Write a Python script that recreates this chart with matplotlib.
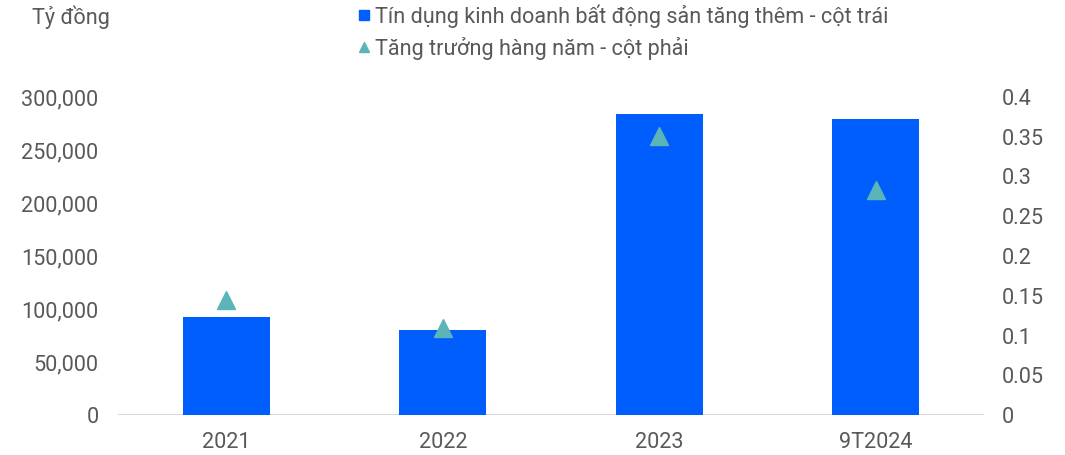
import matplotlib
matplotlib.use("Agg")
import matplotlib.pyplot as plt
from matplotlib.lines import Line2D

plt.rcParams['font.family'] = ['Roboto', 'DejaVu Sans']

categories = ['2021', '2022', '2023', '9T2024']
credit_added = [92500, 80000, 284000, 279000]   # tỷ đồng
growth_yoy = [0.145, 0.109, 0.351, 0.283]

bar_color = '#005EFF'
tri_color = '#5BB5B8'
text_color = '#595959'
fs = 15.6

fig = plt.figure(figsize=(10.65, 4.55), dpi=100)
ax = fig.add_axes([118 / 1065, 40 / 455, 866 / 1065, 318 / 455])
ax2 = ax.twinx()

x = range(len(categories))
ax.bar(x, credit_added, width=0.4, color=bar_color, zorder=2)
ax2.plot(x, growth_yoy, linestyle='none', marker='^', markersize=13,
         color=tri_color, zorder=3)

ax.set_xlim(-0.5, len(categories) - 0.5)
ax.set_ylim(0, 300000)
ax2.set_ylim(0, 0.4)
ax.set_yticks(range(0, 300001, 50000))
ax.set_yticklabels([f'{v:,}' for v in range(0, 300001, 50000)])
ax2.set_yticks([i * 0.05 for i in range(9)])
ax2.set_yticklabels(['0', '0.05', '0.1', '0.15', '0.2', '0.25', '0.3', '0.35', '0.4'])
ax.set_xticks(list(x))
ax.set_xticklabels(categories)

for a in (ax, ax2):
    for s in a.spines.values():
        s.set_visible(False)
    a.tick_params(length=0, labelsize=fs, colors=text_color)
ax.tick_params(axis='y', pad=14)
ax2.tick_params(axis='y', pad=13)
ax.tick_params(axis='x', pad=12)
ax.axhline(0, color='#D9D9D9', linewidth=1.5, zorder=1)

ax2.set_zorder(ax.get_zorder() + 1)
ax2.patch.set_visible(False)

fig.text(32 / 1065, 1 - 17 / 455, 'Tỷ đồng', fontsize=fs, color=text_color,
         va='center', ha='left')

handles = [
    Line2D([], [], linestyle='none', marker='s', markersize=7.5, color=bar_color,
           label='Tín dụng kinh doanh bất động sản tăng thêm - cột trái'),
    Line2D([], [], linestyle='none', marker='^', markersize=7, color=tri_color,
           label='Tăng trưởng hàng năm - cột phải'),
]
fig.legend(handles=handles, loc='upper left', bbox_to_anchor=(349 / 1065, 1.01),
           frameon=False, fontsize=fs, labelcolor=text_color, handlelength=0.6,
           handletextpad=0.2, labelspacing=0.42, borderaxespad=0)

fig.savefig('out.png', dpi=100)
